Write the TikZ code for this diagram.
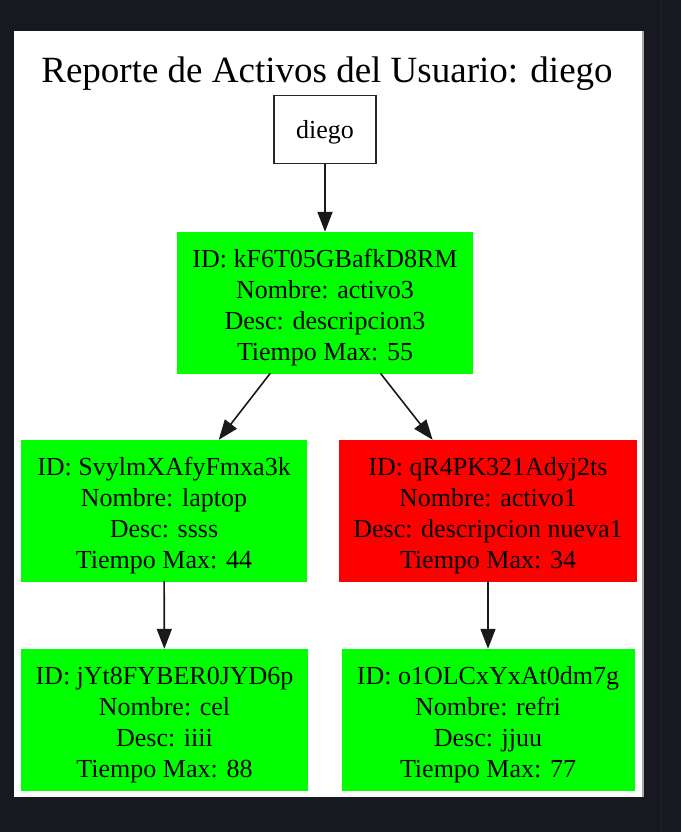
\documentclass[tikz,border=0pt]{standalone}
\usepackage{fontspec}
\setmainfont{Liberation Serif}
\usetikzlibrary{arrows.meta}
\definecolor{bgdark}{HTML}{181820}
\definecolor{bgline}{HTML}{202029}
\definecolor{gvgreen}{HTML}{00FF00}
\definecolor{gvred}{HTML}{FF0000}
\newcommand{\toppad}{\rule{0pt}{28pt}}
\tikzset{
  asset/.style={rectangle, inner sep=0pt, align=center,
    font=\fontsize{26}{31}\selectfont, text=black},
  greenbox/.style={asset, fill=gvgreen, draw=gvgreen},
  redbox/.style={asset, fill=gvred, draw=gvred},
  userbox/.style={rectangle, draw=black!85, line width=1.5pt, fill=white,
    inner sep=0pt, text depth=0pt, font=\fontsize{26}{31}\selectfont},
  edge/.style={draw=black!90, line width=1.6pt,
    -{Triangle[length=20pt,width=15pt]}}
}
\begin{document}
\begin{tikzpicture}[x=1pt,y=-1pt]
\useasboundingbox (0,0) rectangle (681,832);
\fill[bgdark] (0,0) rectangle (681,832);
\draw[bgline, line width=1pt] (661,0) -- (661,832);
\fill[white] (14,31) rectangle (642,797);
\fill[black!35] (642,31) rectangle (644,797);

\node[anchor=base, font=\fontsize{37}{40}\selectfont] (title) at (327,83)
  {Reporte de Activos del Usuario: diego};

\node[userbox, minimum width=102pt, minimum height=68pt] (user) at (325,129.5) {diego};

\node[greenbox, minimum width=295pt, minimum height=141pt] (a3) at (325,302.5)
  {\toppad ID: kF6T05GBafkD8RM\\Nombre: activo3\\Desc: descripcion3\\Tiempo Max: 55};

\node[greenbox, minimum width=285pt, minimum height=141pt] (lap) at (164,510.5)
  {\toppad ID: SvylmXAfyFmxa3k\\Nombre: laptop\\Desc: ssss\\Tiempo Max: 44};

\node[redbox, minimum width=297pt, minimum height=141pt] (a1) at (488,510.5)
  {\toppad ID: qR4PK321Adyj2ts\\Nombre: activo1\\Desc: descripcion nueva1\\Tiempo Max: 34};

\node[greenbox, minimum width=286pt, minimum height=141pt] (cel) at (164.5,719.5)
  {\toppad ID: jYt8FYBER0JYD6p\\Nombre: cel\\Desc: iiii\\Tiempo Max: 88};

\node[greenbox, minimum width=292pt, minimum height=141pt] (refri) at (488,719.5)
  {\toppad ID: o1OLCxYxAt0dm7g\\Nombre: refri\\Desc: jjuu\\Tiempo Max: 77};

\draw[edge] (user) -- (a3);
\draw[edge] (a3) -- (lap);
\draw[edge] (a3) -- (a1);
\draw[edge] (lap) -- (cel);
\draw[edge] (a1) -- (refri);
\end{tikzpicture}
\end{document}
